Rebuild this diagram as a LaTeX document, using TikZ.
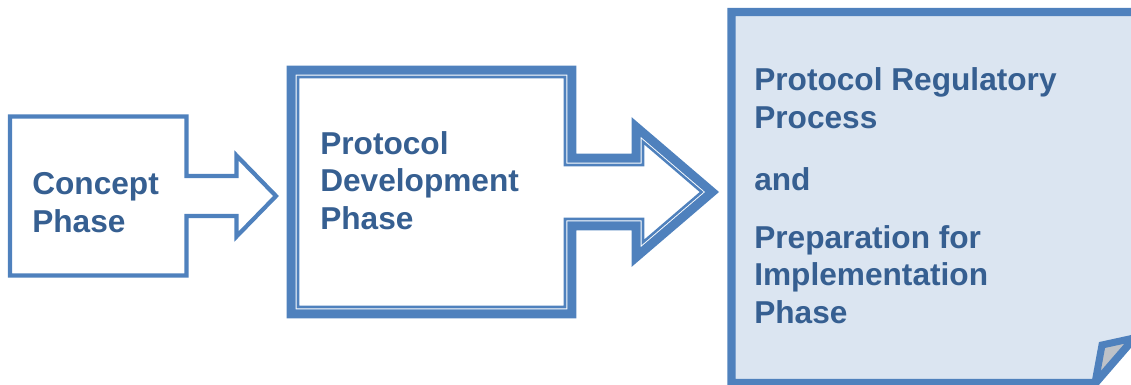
\documentclass[tikz,border=0pt]{standalone}
\usepackage{fontspec}
\setmainfont{Liberation Sans}
\usetikzlibrary{positioning}

\definecolor{frameblue}{HTML}{4F81BD}
\definecolor{textblue}{HTML}{365F91}
\definecolor{pagefill}{HTML}{DBE5F1}
\definecolor{flapgray}{HTML}{BEC2C8}

\begin{document}
\begin{tikzpicture}[
        x=0.025cm, y=-0.025cm,
        outline/.style={draw=frameblue, line join=miter},
        phasetext/.style={anchor=base west, align=left, inner sep=0pt, text=textblue,
            font=\fontsize{22.5pt}{26.5pt}\selectfont\bfseries}
    ]
    \useasboundingbox (0,0) rectangle (1131,384);
    \clip (0,0) rectangle (1131,384);

        % Concept phase
        \draw[outline, line width=3] (10,116.5) -- (186.5,116.5) -- (186.5,176) -- (236.5,176)
            -- (236.5,155.5) -- (276,196) -- (236.5,236.5) -- (236.5,216) -- (186.5,216)
            -- (186.5,275.5) -- (10,275.5) -- cycle;
        \node[phasetext] (concept) at (32,232) {Concept\\Phase};

        % Protocol development phase (thick-thin frame)
        \draw[outline, line width=6.4] (291.2,70.2) -- (571.8,70.2) -- (571.8,158.2) -- (636.2,158.2)
            -- (636.2,127) -- (712.1,192) -- (636.2,257) -- (636.2,225.8) -- (571.8,225.8)
            -- (571.8,313.8) -- (291.2,313.8) -- cycle;
        \draw[outline, line width=1.8] (298,77) -- (565,77) -- (565,165) -- (643,165)
            -- (643,141.8) -- (701.6,192) -- (643,242.2) -- (643,219) -- (565,219)
            -- (565,307) -- (298,307) -- cycle;
        \node[phasetext] (develop) at (320,229) {Protocol\\Development\\Phase};

        % Regulatory page with folded corner
        \draw[outline, fill=pagefill, line width=6] (731.5,12) -- (1140,12) -- (1140,331)
            -- (1095,383) -- (731.5,383) -- cycle;
        \draw[outline, fill=flapgray, line width=5] (1095,383) -- (1102,345) -- (1134,338) -- cycle;
        \node[phasetext] (regproc) at (754,128) {Protocol Regulatory\\Process};
        \node[phasetext] (andword) at (754,190) {and};
        \node[phasetext] (prepimpl) at (754,323) {Preparation for\\Implementation\\Phase};

    \end{tikzpicture}
\end{document}
